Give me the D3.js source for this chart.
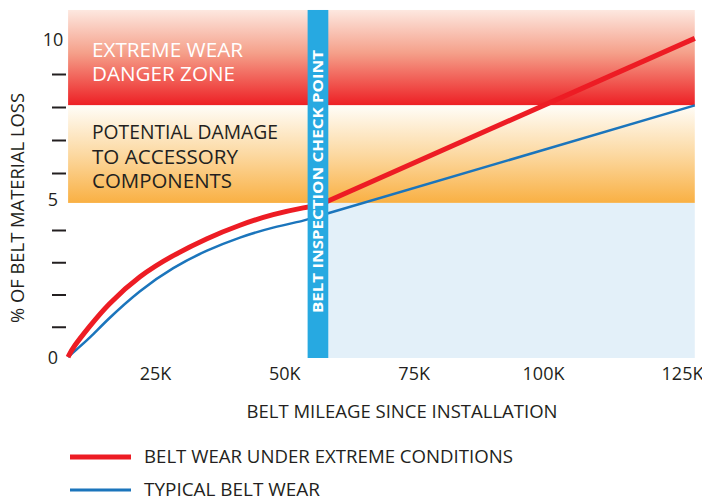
<!DOCTYPE html>
<html><head><meta charset="utf-8">
<script src="https://cdn.jsdelivr.net/npm/d3@7"></script>
<style>
body{margin:0;background:#fff}
svg{display:block}
text{font-family:"Open Sans","Noto Sans",sans-serif}
</style>
</head><body><svg id="chart" width="702" height="497"></svg>
<script>
// ---- data (mileage in thousands, loss in %) ----
const xTickValues = [25, 50, 75, 100, 125];
const xTickLabels = ["25K", "50K", "75K", "100K", "125K"];
const yTickMarks = [1, 2, 3, 4, 6, 7, 8, 9];
const yTickLabels = [0, 5, 10];

const extremeMiles = [8.2, 9.15, 12.4, 15.7, 22.1, 28.5, 35.1, 41.4, 47.8, 54.4, 56.5];
const extremeLoss  = [0.06, 0.37, 1.02, 1.67, 2.6, 3.22, 3.75, 4.18, 4.56, 4.81, 4.86];
const extremeAfterMiles = [56.5, 127.3];
const extremeAfterLoss  = [4.86, 10.08];

const typicalMiles = [8.2, 9.5, 12.4, 15.7, 22.1, 28.5, 35.1, 41.4, 47.8, 54.4, 56.5];
const typicalLoss  = [0.06, 0.25, 0.65, 1.21, 2.14, 2.85, 3.38, 3.78, 4.1, 4.35, 4.48];
const typicalAfterMiles = [56.5, 127.3];
const typicalAfterLoss  = [4.48, 8.05];

const mileageRange = [8.2, 127.3];
const lossTop = 10.94;
const extremeZone = [8.05, 10.94];
const damageZone = [4.95, 8.05];
const checkPoint = [54.5, 58.5];

const extremeZoneLabel = ["EXTREME WEAR", "DANGER ZONE"];
const damageZoneLabel = ["POTENTIAL DAMAGE", "TO ACCESSORY", "COMPONENTS"];
const checkPointLabel = "BELT INSPECTION CHECK POINT";
const legendLabels = ["BELT WEAR UNDER EXTREME CONDITIONS", "TYPICAL BELT WEAR"];

// ---- scales ----
const x = d3.scaleLinear().domain([25, 100, 125]).range([155, 543, 682]);
const y = d3.scaleLinear().domain([0, 4, 6, 10]).range([359, 230, 173, 41]);

const svg = d3.select("#chart");
const ink = "#231f20";
const red = "#ed1c24", blue = "#1b75bc";

const defs = svg.append("defs");
const gRed = defs.append("linearGradient").attr("id", "gRed").attr("x1", 0).attr("y1", 0).attr("x2", 0).attr("y2", 1);
gRed.append("stop").attr("offset", 0).attr("stop-color", "#fde8e0");
gRed.append("stop").attr("offset", 0.45).attr("stop-color", "#f5a08a");
gRed.append("stop").attr("offset", 1).attr("stop-color", "#ed1f24");
const gOr = defs.append("linearGradient").attr("id", "gOr").attr("x1", 0).attr("y1", 0).attr("x2", 0).attr("y2", 1);
gOr.append("stop").attr("offset", 0).attr("stop-color", "#fffdf8");
gOr.append("stop").attr("offset", 0.5).attr("stop-color", "#fcd9a2");
gOr.append("stop").attr("offset", 1).attr("stop-color", "#f9b043");

// zones
svg.append("rect")
  .attr("x", x(mileageRange[0])).attr("width", x(mileageRange[1]) - x(mileageRange[0]))
  .attr("y", y(extremeZone[1])).attr("height", y(extremeZone[0]) - y(extremeZone[1]))
  .attr("fill", "url(#gRed)");
svg.append("rect")
  .attr("x", x(mileageRange[0])).attr("width", x(mileageRange[1]) - x(mileageRange[0]))
  .attr("y", y(damageZone[1])).attr("height", y(damageZone[0]) - y(damageZone[1]))
  .attr("fill", "url(#gOr)");
svg.append("rect")
  .attr("x", x(checkPoint[1])).attr("width", x(mileageRange[1]) - x(checkPoint[1]))
  .attr("y", y(damageZone[0])).attr("height", y(0) - y(damageZone[0]) - 1)
  .attr("fill", "#e3f0f9");

// lines
const line = d3.line().x(d => x(d[0])).y(d => y(d[1]));
const curved = d3.line().x(d => x(d[0])).y(d => y(d[1])).curve(d3.curveBasis);
const zip = (a, b) => a.map((v, i) => [v, b[i]]);

svg.append("path").attr("d", curved(zip(typicalMiles, typicalLoss)))
  .attr("fill", "none").attr("stroke", blue).attr("stroke-width", 2.5);
svg.append("path").attr("d", line(zip(typicalAfterMiles, typicalAfterLoss)))
  .attr("fill", "none").attr("stroke", blue).attr("stroke-width", 2.5);
svg.append("path").attr("d", curved(zip(extremeMiles, extremeLoss)))
  .attr("fill", "none").attr("stroke", red).attr("stroke-width", 5);
svg.append("path").attr("d", line(zip(extremeAfterMiles, extremeAfterLoss)))
  .attr("fill", "none").attr("stroke", red).attr("stroke-width", 5);

// check point bar
svg.append("rect")
  .attr("x", x(checkPoint[0])).attr("width", x(checkPoint[1]) - x(checkPoint[0]))
  .attr("y", y(lossTop)).attr("height", y(0) - y(lossTop) - 1)
  .attr("fill", "#27a9e1");
svg.append("text")
  .attr("transform", `translate(${(x(checkPoint[0]) + x(checkPoint[1])) / 2 + 5.5},181.5) rotate(-90)`)
  .attr("text-anchor", "middle").attr("fill", "#fff")
  .attr("font-size", 14.5).attr("font-weight", 700)
  .attr("textLength", 263).attr("lengthAdjust", "spacingAndGlyphs")
  .text(checkPointLabel);

// zone labels
const zx = 92;
[57, 81].forEach((yy, i) => svg.append("text").attr("x", zx).attr("y", yy)
  .attr("fill", "#fff").attr("font-size", 20.5)
  .attr("textLength", [151, 143][i]).attr("lengthAdjust", "spacingAndGlyphs")
  .text(extremeZoneLabel[i]));
[139, 164, 188].forEach((yy, i) => svg.append("text").attr("x", zx).attr("y", yy)
  .attr("fill", ink).attr("font-size", 20.5)
  .attr("textLength", [186, 146, 140][i]).attr("lengthAdjust", "spacingAndGlyphs")
  .text(damageZoneLabel[i]));

// y axis tick marks
const yTicks = svg.append("g").attr("transform", "translate(66,0)")
  .call(d3.axisLeft(y).tickValues(yTickMarks).tickSize(14).tickFormat(""));
yTicks.select(".domain").remove();
yTicks.selectAll("line").attr("stroke", ink).attr("stroke-width", 2);

// y axis labels
const yLab = svg.append("g").attr("transform", "translate(53,0)")
  .call(d3.axisLeft(y).tickValues(yTickLabels).tickSize(0).tickPadding(0));
yLab.select(".domain").remove();
yLab.selectAll("text").attr("x", 0).attr("text-anchor", "middle").attr("dy", "0.24em")
  .attr("fill", ink).attr("font-size", 18).attr("font-family", null);

// x axis labels
const xLab = svg.append("g").attr("transform", "translate(0,367)")
  .call(d3.axisBottom(x).tickValues(xTickValues).tickSize(0).tickPadding(0)
    .tickFormat((d, i) => xTickLabels[i]));
xLab.select(".domain").remove();
xLab.selectAll("text").attr("fill", ink).attr("font-size", 18).attr("font-family", null);

// axis titles
svg.append("text").attr("transform", "translate(24,208) rotate(-90)")
  .attr("text-anchor", "middle").attr("fill", ink).attr("font-size", 18)
  .attr("textLength", 230).attr("lengthAdjust", "spacingAndGlyphs")
  .text("% OF BELT MATERIAL LOSS");
svg.append("text").attr("x", 402).attr("y", 418)
  .attr("text-anchor", "middle").attr("fill", ink).attr("font-size", 18.5)
  .attr("textLength", 311).attr("lengthAdjust", "spacingAndGlyphs")
  .text("BELT MILEAGE SINCE INSTALLATION");

// legend
const legend = [
  {label: legendLabels[0], color: red, w: 5, y: 457, tl: 369},
  {label: legendLabels[1], color: blue, w: 3, y: 490, tl: 176}
];
legend.forEach(l => {
  svg.append("line").attr("x1", 70).attr("x2", 131).attr("y1", l.y).attr("y2", l.y)
    .attr("stroke", l.color).attr("stroke-width", l.w);
  svg.append("text").attr("x", 144).attr("y", l.y + 6)
    .attr("fill", ink).attr("font-size", 17.5)
    .attr("textLength", l.tl).attr("lengthAdjust", "spacingAndGlyphs")
    .text(l.label);
});
</script>
</body></html>
